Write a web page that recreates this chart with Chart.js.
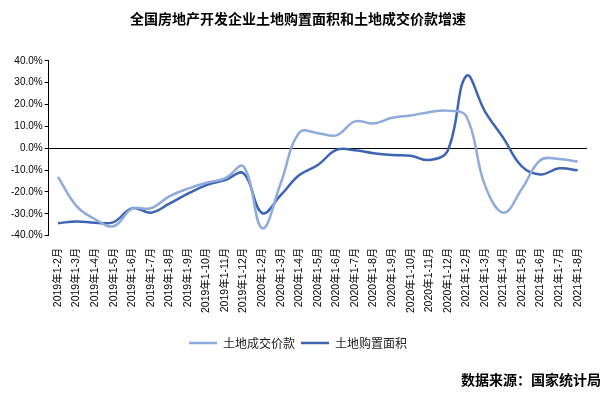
<!DOCTYPE html>
<html>
<head>
<meta charset="utf-8">
<script src="https://cdn.jsdelivr.net/npm/chart.js@4/dist/chart.umd.min.js"></script>
<style>
  body { margin: 0; background: #fff; }
  #wrap { position: relative; width: 607px; height: 397px; }
  #source {
    position: absolute; right: 6px; top: 369px;
    font: bold 14px 'Noto Sans CJK SC', sans-serif; color: #000;
  }
</style>
</head>
<body>
<div id="wrap">
  <canvas id="landChart" width="607" height="397"></canvas>
  <div id="source">数据来源：国家统计局</div>
</div>
<script>
var months = [
  '2019年1-2月', '2019年1-3月', '2019年1-4月', '2019年1-5月', '2019年1-6月', '2019年1-7月',
  '2019年1-8月', '2019年1-9月', '2019年1-10月', '2019年1-11月', '2019年1-12月',
  '2020年1-2月', '2020年1-3月', '2020年1-4月', '2020年1-5月', '2020年1-6月', '2020年1-7月',
  '2020年1-8月', '2020年1-9月', '2020年1-10月', '2020年1-11月', '2020年1-12月',
  '2021年1-2月', '2021年1-3月', '2021年1-4月', '2021年1-5月', '2021年1-6月', '2021年1-7月',
  '2021年1-8月'
];
// 土地成交价款 增速 (%)
var priceGrowth = [
  -13.1, -26.5, -32.5, -35.7, -27.7, -27.5, -22.0, -18.5, -15.8, -13.8, -8.4,
  -36.6, -16.0, 7.2, 6.9, 5.9, 12.3, 11.3, 13.9, 15.0, 16.5, 17.2,
  14.6, -16.9, -29.5, -18.5, -5.4, -4.9, -6.1
];
// 土地购置面积 增速 (%)
var areaGrowth = [
  -34.3, -33.5, -34.1, -33.8, -27.4, -29.5, -25.4, -20.8, -16.9, -14.6, -11.5,
  -29.7, -21.5, -12.3, -7.7, -0.8, -0.9, -2.3, -3.1, -3.4, -5.4, -1.0,
  33.1, 16.9, 4.6, -8.4, -12.0, -9.2, -10.1
];
var yTicks = [-40, -30, -20, -10, 0, 10, 20, 30, 40];

var fontFamily = "'Liberation Sans', 'Noto Sans CJK SC', sans-serif";

var ctx = document.getElementById('landChart').getContext('2d');
var myChart = new Chart(ctx, {
  type: 'line',
  data: {
    labels: months,
    datasets: [{
      label: '土地成交价款',
      data: priceGrowth,
      borderColor: 'rgb(143, 170, 220)',
      backgroundColor: 'rgb(143, 170, 220)',
      borderWidth: 2.5,
      pointRadius: 0,
      tension: 0.4
    }, {
      label: '土地购置面积',
      data: areaGrowth,
      borderColor: 'rgb(61, 100, 178)',
      backgroundColor: 'rgb(61, 100, 178)',
      borderWidth: 2.5,
      pointRadius: 0,
      tension: 0.4
    }]
  },
  options: {
    responsive: false,
    animation: false,
    layout: { padding: { left: 9, right: 20, bottom: 38 } },
    scales: {
      x: {
        offset: true,
        border: { display: false },
        grid: { display: false },
        afterFit: function (axis) { axis.height += 14; },
        ticks: {
          autoSkip: false,
          minRotation: 90,
          maxRotation: 90,
          padding: 4,
          color: '#000',
          font: { family: fontFamily, size: 10.5 }
        }
      },
      y: {
        min: -40,
        max: 40,
        afterBuildTicks: function (axis) {
          axis.ticks = yTicks.map(function (v) { return { value: v }; });
        },
        border: { display: true, color: '#000', width: 1 },
        grid: {
          drawOnChartArea: true,
          drawTicks: true,
          tickLength: 4,
          tickColor: '#000',
          color: function (c) { return c.tick && c.tick.value === 0 ? '#000' : 'rgba(0,0,0,0)'; }
        },
        ticks: {
          padding: 2,
          color: '#000',
          font: { family: fontFamily, size: 10 },
          callback: function (v) { return v.toFixed(1) + '%'; }
        }
      }
    },
    plugins: {
      title: {
        display: true,
        text: '全国房地产开发企业土地购置面积和土地成交价款增速',
        color: '#000',
        font: { family: "'Noto Sans CJK SC', sans-serif", size: 14, weight: 'bold' },
        padding: { top: 10, bottom: 34 }
      },
      legend: {
        position: 'bottom',
        labels: {
          usePointStyle: true,
          pointStyle: 'line',
          pointStyleWidth: 28,
          boxHeight: 10,
          color: '#222',
          padding: 6,
          font: { family: "'Noto Sans CJK SC', sans-serif", size: 12 }
        }
      },
      tooltip: { enabled: false }
    }
  }
});
</script>
</body>
</html>
